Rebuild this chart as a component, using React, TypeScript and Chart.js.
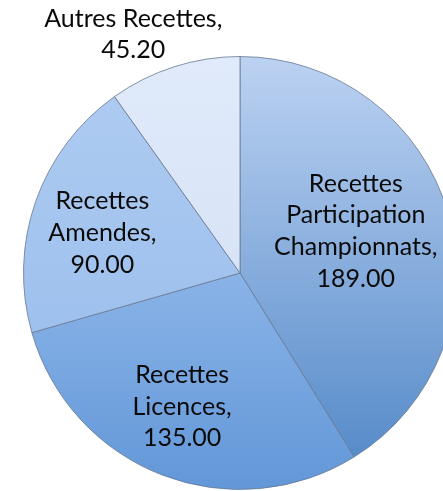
import React, { useEffect, useRef } from "react";
import { Chart, registerables } from "chart.js";

Chart.register(...registerables);

const categories: string[][] = [
  ["Recettes", "Participation", "Championnats"],
  ["Recettes", "Licences"],
  ["Recettes", "Amendes"],
  ["Autres Recettes"],
];
const values: number[] = [189.0, 135.0, 90.0, 45.2];
const colorsTop: string[] = ["#bcd2f2", "#b2d0f7", "#b0cdf2", "#e0eafb"];
const colorsBottom: string[] = ["#4f86c6", "#6297d8", "#93b9ea", "#cfdcf2"];
// label placement: fraction of slice angle, fraction of radius
const labelAngleFrac: number[] = [0.473, 0.522, 0.457, 0.32];
const labelRadiusFrac: number[] = [0.569, 0.673, 0.662, 1.207];

const FONT = "Lato, 'Open Sans', sans-serif";
const FONT_SIZE = 25;
const LINE_H = 31.7;

const labelPlugin = {
  id: "sliceLabels",
  afterDatasetsDraw(chart: any) {
    const meta = chart.getDatasetMeta(0);
    const ctx = chart.ctx;
    ctx.save();
    ctx.font = `${FONT_SIZE}px ${FONT}`;
    ctx.fillStyle = "#0a0a0a";
    ctx.textAlign = "center";
    ctx.textBaseline = "middle";
    meta.data.forEach((arc: any, i: number) => {
      const p = arc.getProps(["x", "y", "startAngle", "endAngle", "outerRadius"], true);
      const a = p.startAngle + labelAngleFrac[i] * (p.endAngle - p.startAngle);
      const r = labelRadiusFrac[i] * p.outerRadius;
      const cx = p.x + Math.cos(a) * r;
      const cy = p.y + Math.sin(a) * r;
      const lines = categories[i].slice();
      lines[lines.length - 1] = lines[lines.length - 1] + ",";
      lines.push(values[i].toFixed(2));
      const y0 = cy - ((lines.length - 1) * LINE_H) / 2;
      lines.forEach((t, k) => ctx.fillText(t, cx, y0 + k * LINE_H));
    });
    ctx.restore();
  },
};

export default function App() {
  const ref = useRef<HTMLCanvasElement>(null);
  useEffect(() => {
    if (!ref.current) return;
    const chart = new Chart(ref.current, {
      type: "pie",
      data: {
        labels: categories.map((c) => c.join(" ")),
        datasets: [
          {
            data: values,
            backgroundColor: (c: any) => {
              const area = c.chart.chartArea;
              const i = c.dataIndex;
              if (!area) return colorsTop[i];
              const g = c.chart.ctx.createLinearGradient(0, area.top, 0, area.bottom);
              g.addColorStop(0, colorsTop[i]);
              g.addColorStop(1, colorsBottom[i]);
              return g;
            },
            borderColor: "rgba(105,120,145,0.8)",
            borderWidth: 1,
          },
        ],
      },
      options: {
        animation: false,
        responsive: true,
        maintainAspectRatio: false,
        layout: { padding: { left: 23, top: 56, right: 13, bottom: 1 } },
        plugins: {
          legend: { display: false },
          tooltip: { enabled: false },
        },
      },
      plugins: [labelPlugin],
    });
    return () => chart.destroy();
  }, []);
  return (
    <div
      style={{
        position: "fixed",
        left: 0,
        top: 0,
        width: 443,
        height: 491,
        overflow: "hidden",
        background: "#ffffff",
      }}
    >
      <div style={{ position: "absolute", left: 0, top: 0, width: 470, height: 491 }}>
        <canvas ref={ref} />
      </div>
    </div>
  );
}
